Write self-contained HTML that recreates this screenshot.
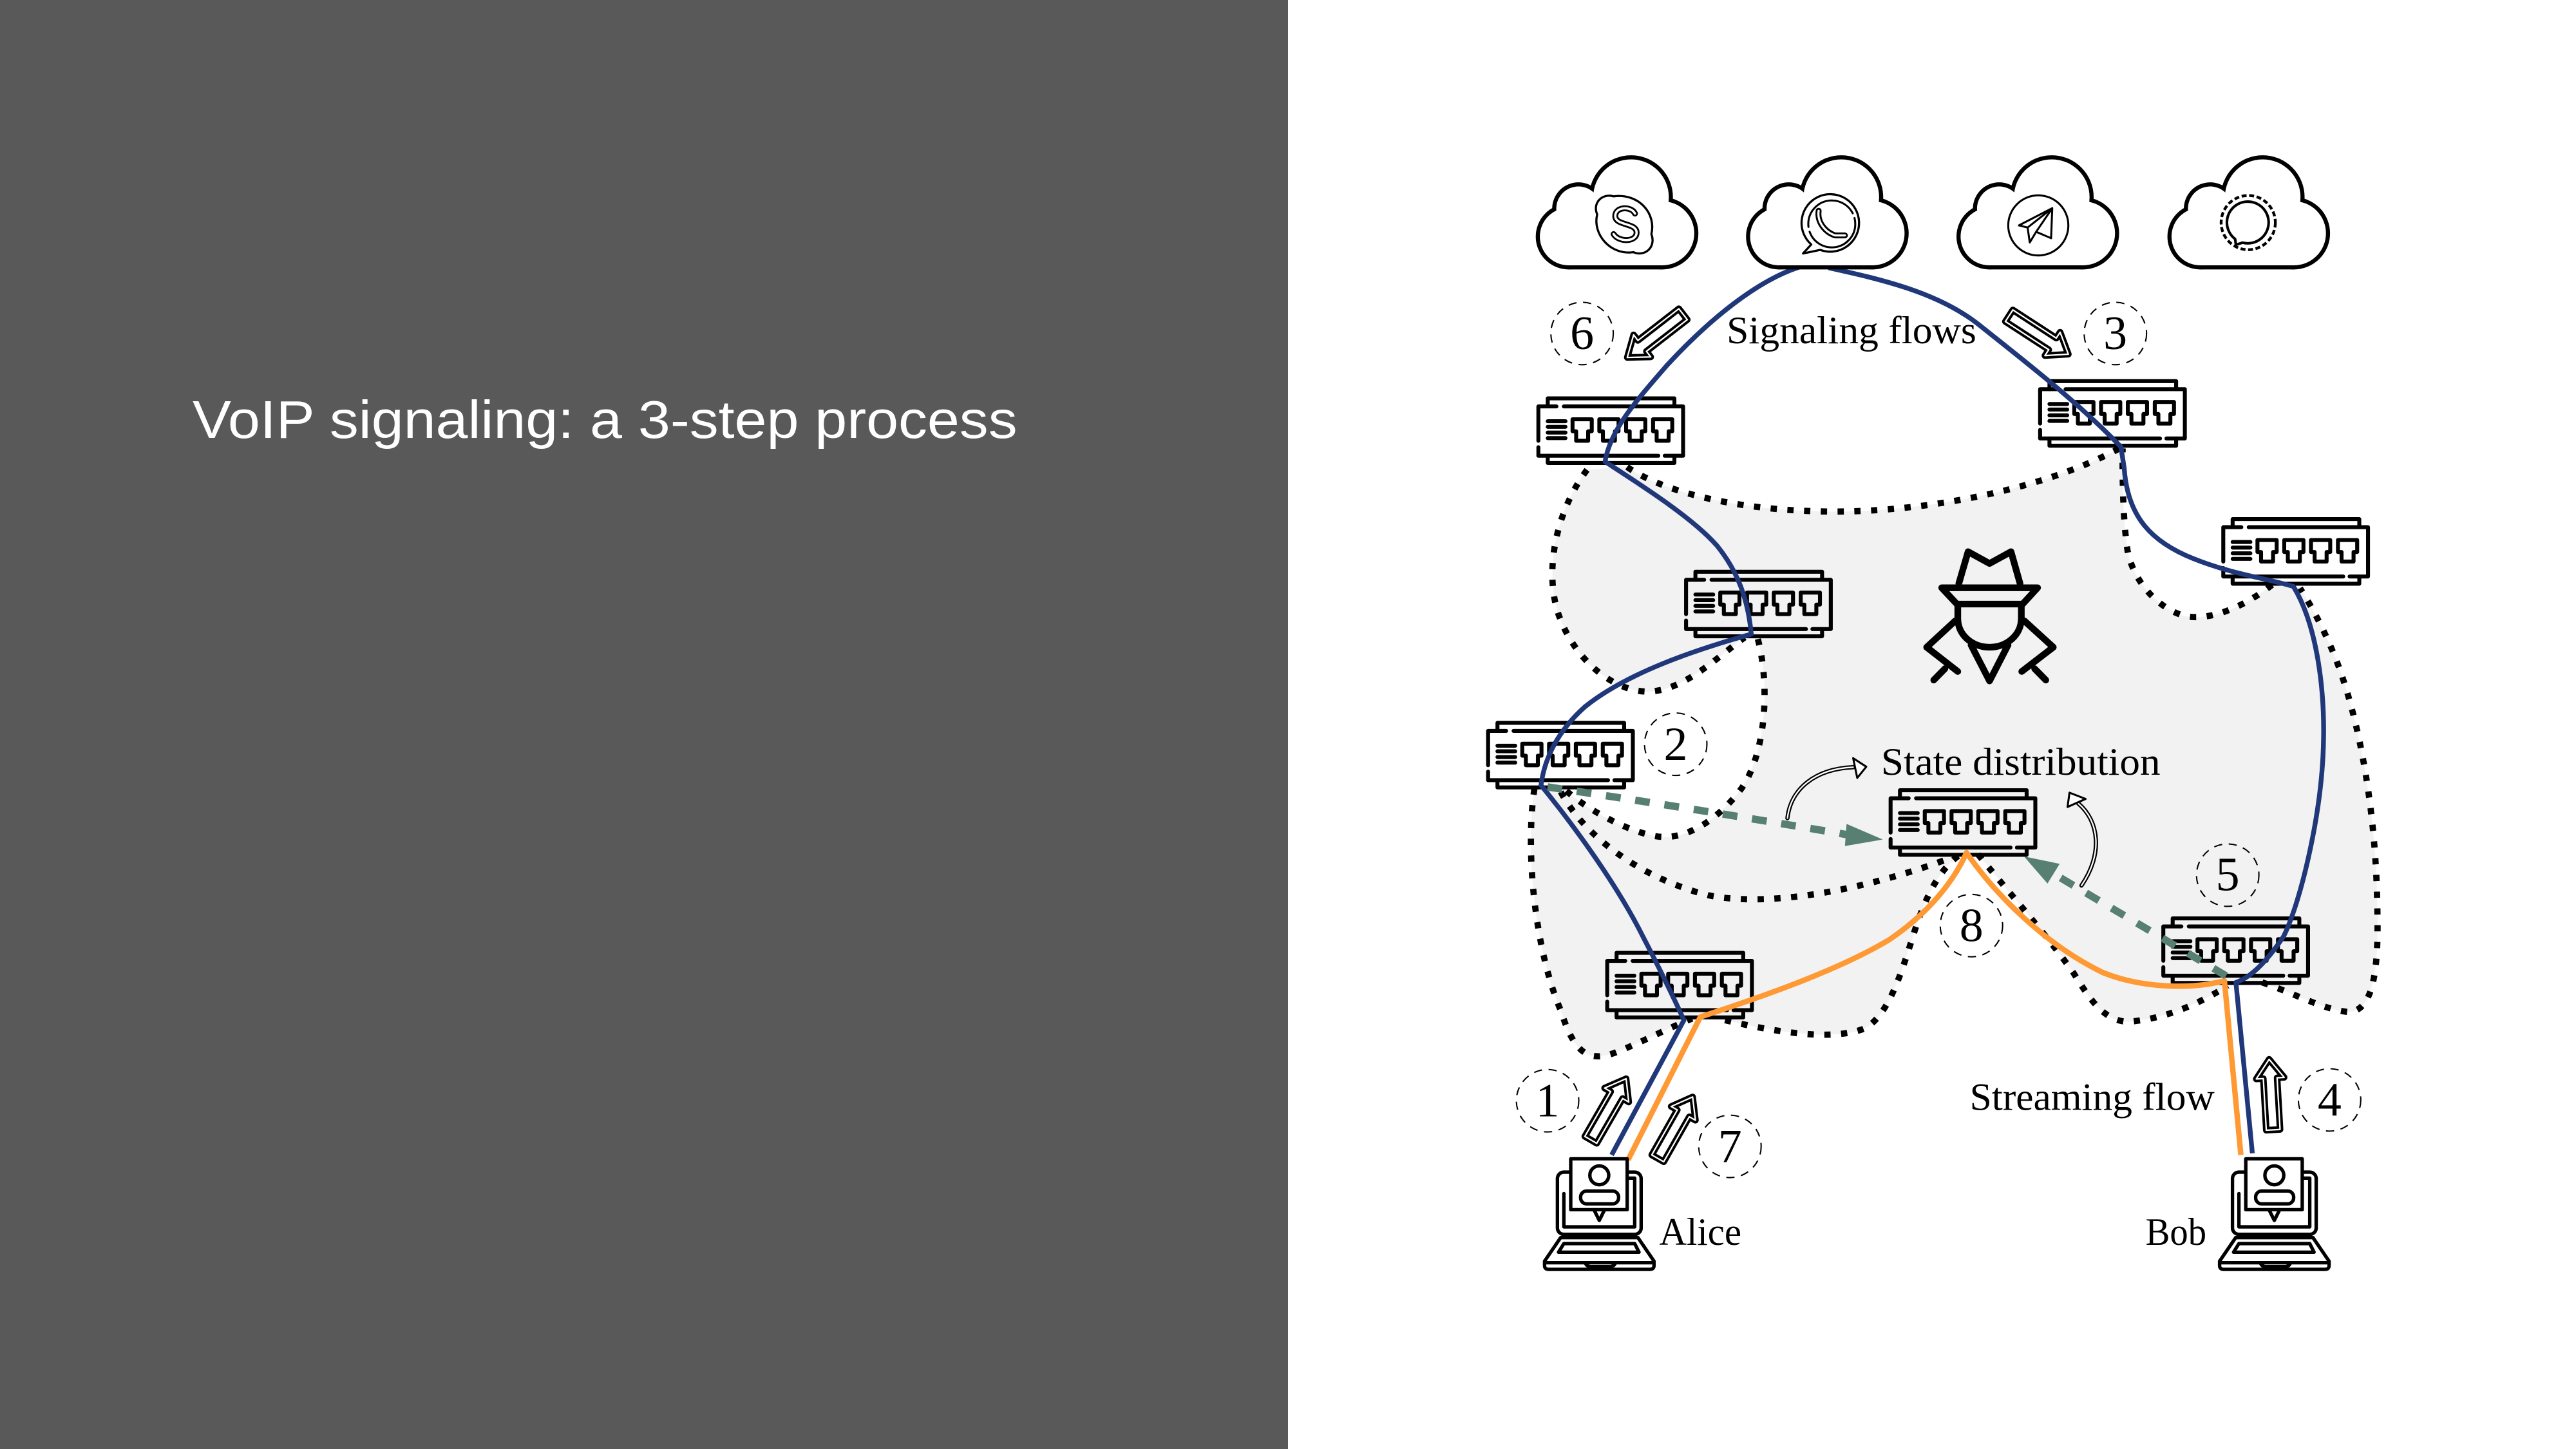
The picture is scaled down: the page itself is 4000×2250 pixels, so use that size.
<!DOCTYPE html>
<html><head><meta charset="utf-8"><style>
html,body{margin:0;padding:0;background:#fff;overflow:hidden}
svg{display:block}
</style></head><body>
<svg xmlns="http://www.w3.org/2000/svg" xmlns:xlink="http://www.w3.org/1999/xlink" width="4000" height="2250" viewBox="0 0 1568 882">
<defs>
<g id="sw" fill="none" stroke="#000" stroke-width="2.4" stroke-linecap="round" stroke-linejoin="round">
<path d="M6.5,5.9V1H83.6V5.9"/>
<path d="M11.8,5.9H0.8V26.8M0.8,30.7V35.9H73.8M77.7,35.9H88.9V5.9H16.3"/>
<path d="M6.5,35.9V40.3H83.6V35.9"/>
<path d="M6.5,14.9H17.3M6.5,18.3H17.3M6.5,21.8H17.3M6.5,25.2H17.3"/>
<path d="M21.6,13.7h11.7V21h-2.2v5.8h-7.3V21h-2.2z M37.9,13.7h11.7V21h-2.2v5.8h-7.3V21h-2.2z M54.2,13.7h11.7V21h-2.2v5.8h-7.3V21h-2.2z M70.6,13.7h11.7V21h-2.2v5.8h-7.3V21h-2.2z"/>
</g>
<g id="cloudB" fill="#000" stroke="#000" stroke-width="5" stroke-linejoin="round">
<circle cx="27" cy="142" r="19.5"/><circle cx="8" cy="120" r="23"/><circle cx="-24" cy="127" r="13.5"/><circle cx="-30" cy="144" r="17.5"/><rect x="-30" y="130" width="57" height="31.5"/>
</g>
<g id="cloudW" fill="#fff" stroke="none">
<circle cx="27" cy="142" r="19.5"/><circle cx="8" cy="120" r="23"/><circle cx="-24" cy="127" r="13.5"/><circle cx="-30" cy="144" r="17.5"/><rect x="-30" y="130" width="57" height="31.5"/>
</g>
<g id="laptop" fill="none" stroke="#000" stroke-width="16" stroke-linecap="round" stroke-linejoin="round">
<rect x="175" y="540" width="390" height="290" rx="30"/>
<path d="M205,640V795H535V568H505"/>
<rect x="237" y="478" width="263" height="237" fill="#fff"/>
<path d="M345,715L370,765L395,715"/>
<circle cx="370" cy="555" r="44"/>
<rect x="283" y="628" width="177" height="60" rx="28"/>
<path d="M190,845H550L625,955V975Q625,993 607,993H133Q115,993 115,975V955Z" fill="#fff"/>
<path d="M118,962H622"/>
<path d="M305,962Q310,980 330,980H420Q440,980 445,962"/>
<path d="M205,873H535L555,913H180Z"/>
</g>
<g id="ha">
<path d="M0,0 L8.5,11.5 L4.2,11.5 L4.2,43 L-4.2,43 L-4.2,11.5 L-8.5,11.5 Z" fill="#fff" stroke="#000" stroke-width="4" stroke-linejoin="round"/>
<path d="M0,0 L8.5,11.5 L4.2,11.5 L4.2,43 L-4.2,43 L-4.2,11.5 L-8.5,11.5 Z" fill="none" stroke="#fff" stroke-width="0.9" stroke-linejoin="round"/>
</g>
</defs>

<rect x="0" y="0" width="1568" height="882" fill="#fff"/>
<rect x="0" y="0" width="784" height="882" fill="#595959"/>
<text x="117.2" y="266.6" font-family="Liberation Sans, DejaVu Sans, sans-serif" font-size="32.5" fill="#ffffff" textLength="502" lengthAdjust="spacingAndGlyphs">VoIP signaling: a 3-step process</text>

<!-- shaded region -->
<path fill="#f2f2f2" d="M990,284 C1010,298 1050,309 1100,311 C1160,314 1240,300 1290,273 L1292,273 C1292,290 1292,315 1295,335 C1298,352 1312,370 1330,375 C1345,378 1365,370 1383,356 L1400,358 C1405,366 1411,376 1418,392 C1435,430 1446,490 1447,550 C1448,585 1446,615 1430,616 C1415,615 1395,604 1377,598 L1356,600 C1340,610 1320,620 1295,622 C1280,621 1272,608 1262,592 C1245,568 1220,540 1204,520 L1192,521 C1180,530 1172,546 1165,568 C1158,590 1150,618 1135,626 C1115,634 1080,628 1050,621 L1030,620 C1015,626 1000,634 985,640 C966,648 958,640 950,615 C935,580 928,520 934,480 L953,481 C965,492 990,506 1008,509 C1025,512 1045,500 1060,480 C1074,460 1078,420 1070,389 L1062,388 C1045,400 1025,421 1002,421 C980,420 957,400 948,372 C940,345 948,310 966,286 Z"/>

<!-- dotted boundaries -->
<g fill="none" stroke="#000" stroke-width="3.8" stroke-dasharray="3.8 6.4">
<path d="M1290,273 C1240,300 1160,314 1100,311 C1050,309 1010,298 990,284"/>
<path d="M966,286 C948,310 940,345 948,372 C957,400 980,420 1002,421 C1025,421 1045,400 1062,388"/>
<path d="M1070,389 C1078,420 1074,460 1060,480 C1045,500 1025,512 1008,509 C990,506 965,492 953,481"/>
<path d="M950,482 C965,510 1000,535 1040,545 C1080,553 1140,540 1188,522"/>
<path d="M934,480 C928,520 935,580 950,615 C958,640 966,648 985,640 C1000,634 1015,626 1030,620"/>
<path d="M1050,621 C1080,628 1115,634 1135,626 C1150,618 1158,590 1165,568 C1172,546 1180,530 1192,521"/>
<path d="M1204,520 C1220,540 1245,568 1262,592 C1272,608 1280,621 1295,622 C1320,620 1340,610 1356,600"/>
<path d="M1377,598 C1395,604 1415,615 1430,616 C1446,615 1448,585 1447,550 C1446,490 1435,430 1418,392 C1411,376 1405,366 1400,358"/>
<path d="M1383,356 C1365,370 1345,378 1330,375 C1312,370 1298,352 1295,335 C1292,315 1292,290 1292,273"/>
</g>

<!-- switches -->
<use xlink:href="#sw" href="#sw" x="935.6" y="241.5"/>
<use xlink:href="#sw" href="#sw" x="1241" y="231"/>
<use xlink:href="#sw" href="#sw" x="1352.5" y="315"/>
<use xlink:href="#sw" href="#sw" x="1025.5" y="347"/>
<use xlink:href="#sw" href="#sw" x="905" y="439"/>
<use xlink:href="#sw" href="#sw" x="1150" y="480"/>
<use xlink:href="#sw" href="#sw" x="977.5" y="579"/>
<use xlink:href="#sw" href="#sw" x="1316" y="558"/>

<!-- hacker -->
<g transform="translate(1128.97,321.44) scale(0.13067)" fill="none" stroke="#000" stroke-width="31" stroke-linecap="round" stroke-linejoin="round">
<path d="M485,258 L528,110 L628,165 L728,110 L770,258"/>
<path d="M405,278 H852 L782,354 H476 Z"/>
<path d="M480,360 V420 C480,500 550,555 628,555 C706,555 776,500 776,420 V360"/>
<path d="M542,545 L628,712 L714,545"/>
<path d="M468,432 L335,555 L480,668"/>
<path d="M790,432 L925,555 L778,668"/>
<path d="M420,655 L368,708 M838,655 L890,708"/>
</g>

<!-- signaling lines -->
<g fill="none" stroke="#20387a" stroke-width="2.9" stroke-linejoin="round">
<path d="M1097,162 C1070,170 1040,195 1015,222 C995,245 980,262 977,281 C1000,296 1030,315 1045,332 C1058,348 1064,365 1066,386 C1030,396 990,410 965,430 C948,445 940,462 938,478 C960,505 985,540 1000,570 C1013,595 1020,610 1025,621 L981,703"/>
<path d="M1113,163 C1145,170 1180,178 1205,198 C1235,222 1265,245 1291,272 L1293,285 C1295,315 1310,330 1335,340 C1360,350 1380,352 1396,357 C1410,380 1416,420 1414,460 C1412,500 1400,550 1390,570 C1380,585 1370,595 1361,598 L1371,702"/>
</g>
<!-- streaming line -->
<path fill="none" stroke="#ff9933" stroke-width="3.3" stroke-linejoin="round" d="M991,706 L1035,619 C1075,606 1120,590 1150,572 C1175,555 1190,535 1197,519 C1215,545 1245,575 1280,592 C1305,602 1335,602 1354,597 L1364,703"/>

<!-- green dashed arrows -->
<g fill="none" stroke="#577f72" stroke-width="4.5" stroke-dasharray="9 9">
<path d="M942,479 Q1030,492 1124,508"/>
<path d="M1355,594 L1252,533"/>
</g>
<polygon points="1124,501.5 1146,511 1123,515" fill="#577f72"/>
<polygon points="1232,521.3 1253.7,525.8 1246.3,537.8" fill="#577f72"/>

<!-- state distribution curved arrows -->
<g fill="none" stroke-linecap="round">
<path d="M1088,498 C1090,480 1105,468 1128,467" stroke="#000" stroke-width="2.6"/>
<path d="M1088,498 C1090,480 1105,468 1128,467" stroke="#fff" stroke-width="0.9"/>
<path d="M1267,539 C1280,520 1278,500 1265,489" stroke="#000" stroke-width="2.6"/>
<path d="M1267,539 C1280,520 1278,500 1265,489" stroke="#fff" stroke-width="0.9"/>
</g>
<polygon points="1128,461.5 1136,466.7 1130.5,473.5" fill="#fff" stroke="#000" stroke-width="1.2" stroke-linejoin="round"/>
<polygon points="1259.7,482.5 1258.5,491.2 1269.5,486.3" fill="#fff" stroke="#000" stroke-width="1.2" stroke-linejoin="round"/>

<!-- clouds -->
<use xlink:href="#cloudB" href="#cloudB" transform="translate(984.8,0)"/>
<use xlink:href="#cloudB" href="#cloudB" transform="translate(1112.8,0)"/>
<use xlink:href="#cloudB" href="#cloudB" transform="translate(1240.9,0)"/>
<use xlink:href="#cloudB" href="#cloudB" transform="translate(1369.3,0)"/>
<use xlink:href="#cloudW" href="#cloudW" transform="translate(984.8,0)"/>
<use xlink:href="#cloudW" href="#cloudW" transform="translate(1112.8,0)"/>
<use xlink:href="#cloudW" href="#cloudW" transform="translate(1240.9,0)"/>
<use xlink:href="#cloudW" href="#cloudW" transform="translate(1369.3,0)"/>

<!-- skype icon -->
<g transform="translate(989.2,136.5)" fill="none" stroke="#000" stroke-linecap="round">
<path stroke-width="1.3" d="M-7,-17 C-14,-19 -20,-13 -17,-6 C-20,6 -9,19 5,17 C12,20 19,14 16,6 C19,-7 8,-19 -7,-17 Z"/>
<path stroke-width="3.6" d="M6,-6.5 C4,-11 -6,-11 -6,-5 C-6,1 7,-1 7,5 C7,11 -4,11 -7,6"/>
<path stroke-width="1.4" stroke="#fff" d="M6,-6.5 C4,-11 -6,-11 -6,-5 C-6,1 7,-1 7,5 C7,11 -4,11 -7,6"/>
</g>
<!-- whatsapp icon -->
<g transform="translate(1115,136.3)" fill="none" stroke="#000" stroke-linecap="round" stroke-linejoin="round">
<path stroke-width="1.3" d="M-12.5,12.5 A17.5,17.5 0 1 1 -7,15.8 L-17.5,18 Z"/>
<circle r="14.3" stroke-width="1.2" stroke-dasharray="40 3"/>
<path stroke-width="3.6" d="M-8,-8 C-9,-1 -4,5 2,7 L8,7"/>
<path stroke-width="1.3" stroke="#fff" d="M-8,-8 C-9,-1 -4,5 2,7 L8,7"/>
</g>
<!-- telegram icon -->
<g transform="translate(1240.7,137.2)" fill="none" stroke="#000" stroke-width="1.2" stroke-linejoin="round">
<circle r="18.3"/>
<path d="M8.5,-10.5 L-11.8,0 L-6.5,1.3 L-5.2,10.4 L-1.3,3.9 L7.8,7.8 Z M8.5,-10.5 L-6.5,1.3 M8.5,-10.5 L-1.3,3.9"/>
</g>
<!-- signal icon -->
<g transform="translate(1368.5,135.5)" fill="none" stroke="#000" stroke-linejoin="round">
<circle r="16.5" stroke-width="1.7" stroke-dasharray="3 1.6"/>
<path stroke-width="1.6" d="M-8,10 A12.7,12.7 0 1 1 -3.5,12.2 L-7.5,13.5 Z"/>
</g>

<!-- laptops -->
<use xlink:href="#laptop" href="#laptop" transform="translate(925.13,642.89) scale(0.13067)"/>
<use xlink:href="#laptop" href="#laptop" transform="translate(1336.03,642.89) scale(0.13067)"/>

<!-- hollow arrows -->
<use xlink:href="#ha" href="#ha" transform="translate(989.8,656.6) rotate(30)"/>
<use xlink:href="#ha" href="#ha" transform="translate(1030.3,667.7) rotate(29.6)"/>
<use xlink:href="#ha" href="#ha" transform="translate(1381.2,644.8) rotate(-3.3)"/>
<use xlink:href="#ha" href="#ha" transform="translate(990.5,217.6) rotate(-127.8)"/>
<use xlink:href="#ha" href="#ha" transform="translate(1259,215.6) rotate(123)"/>

<!-- numbered circles -->
<g fill="none" stroke="#000" stroke-width="0.8" stroke-dasharray="5 4">
<circle cx="963" cy="203" r="19"/>
<circle cx="1287.6" cy="203" r="19"/>
<circle cx="1020" cy="453" r="19"/>
<circle cx="1356" cy="532.7" r="19"/>
<circle cx="1200" cy="563.4" r="19"/>
<circle cx="942" cy="670" r="19"/>
<circle cx="1053" cy="697.8" r="19"/>
<circle cx="1418" cy="669.5" r="19"/>
</g>
<g font-family="Liberation Serif, DejaVu Serif, serif" font-size="29" fill="#000" text-anchor="middle">
<text x="963" y="212.5">6</text>
<text x="1287.6" y="212.5">3</text>
<text x="1020" y="462.5">2</text>
<text x="1356" y="542">5</text>
<text x="1200" y="573">8</text>
<text x="942" y="679.5">1</text>
<text x="1053" y="707.3">7</text>
<text x="1418" y="679">4</text>
</g>

<!-- labels -->
<g font-family="Liberation Serif, DejaVu Serif, serif" font-size="23.7" fill="#000">
<text x="1051" y="209" textLength="152" lengthAdjust="spacingAndGlyphs">Signaling flows</text>
<text x="1145" y="471.6" textLength="170" lengthAdjust="spacingAndGlyphs">State distribution</text>
<text x="1199" y="675.6" textLength="149" lengthAdjust="spacingAndGlyphs">Streaming flow</text>
<text x="1010" y="757.8" textLength="50" lengthAdjust="spacingAndGlyphs">Alice</text>
<text x="1306" y="757.8" textLength="37" lengthAdjust="spacingAndGlyphs">Bob</text>
</g>
</svg>
</body></html>
